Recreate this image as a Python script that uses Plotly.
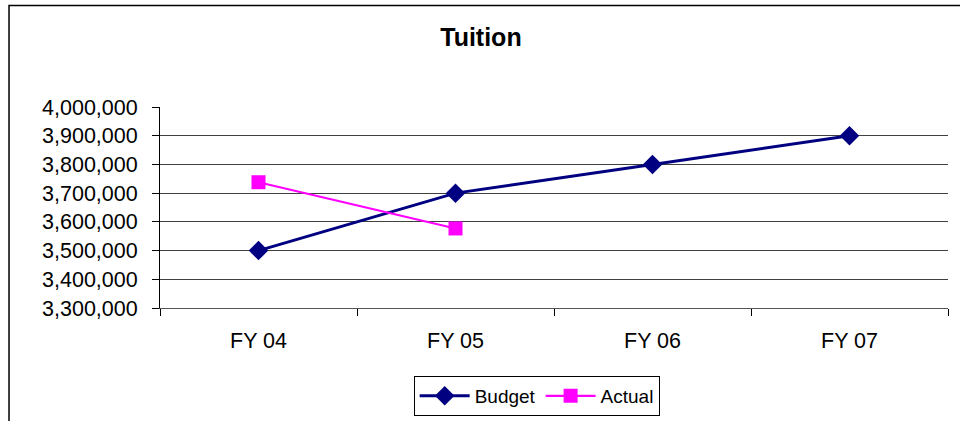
import plotly.graph_objects as go

# Datos
years = ["FY 04", "FY 05", "FY 06", "FY 07"]
budget = [3500000, 3700000, 3800000, 3900000]
actual_years = ["FY 04", "FY 05"]
actual = [3738000, 3577000]
y_ticks = [3300000, 3400000, 3500000, 3600000, 3700000, 3800000, 3900000, 4000000]
grid_ticks = y_ticks[1:-1]

FONT = "Liberation Sans, Arial, sans-serif"

fig = go.Figure()
fig.add_trace(go.Scatter(
    x=years, y=budget, name="Budget", mode="lines+markers",
    line=dict(color="#000080", width=3),
    marker=dict(symbol="diamond", size=15, color="#000080"),
))
fig.add_trace(go.Scatter(
    x=actual_years, y=actual, name="Actual", mode="lines+markers",
    line=dict(color="#FF00FF", width=2.2),
    marker=dict(symbol="square", size=14, color="#FF00FF"),
))
# eje fantasma solo para la cuadricula (Excel no la dibuja arriba)
fig.add_trace(go.Scatter(x=years, y=budget, yaxis="y2", mode="none",
                         showlegend=False, hoverinfo="skip"))

fig.update_layout(
    template="none",
    width=960, height=421,
    margin=dict(l=160, r=12, t=107, b=113, autoexpand=False),
    paper_bgcolor="white", plot_bgcolor="white",
    font=dict(family=FONT, size=21.5, color="black"),
    title=dict(text="<b>Tuition</b>", x=0.501, xanchor="center",
               y=0.912, yanchor="middle", font=dict(size=25)),
    xaxis=dict(
        type="category", range=[-0.5, 3.5], tickson="boundaries",
        ticks="outside", ticklen=7, tickcolor="black",
        showline=True, linecolor="#555555", linewidth=1,
        showgrid=False, ticklabelstandoff=13, automargin=False,
    ),
    yaxis=dict(
        range=[3300000, 4000000], tickvals=y_ticks, tickformat=",d",
        ticks="outside", ticklen=7, tickcolor="black",
        showline=True, linecolor="black", linewidth=1,
        showgrid=False, zeroline=False, ticklabelstandoff=10,
        automargin=False,
    ),
    yaxis2=dict(
        overlaying="y", range=[3300000, 4000000], tickvals=grid_ticks,
        showticklabels=False, ticks="", showgrid=True,
        gridcolor="#404040", gridwidth=1, zeroline=False, showline=False,
        automargin=False,
    ),
    legend=dict(
        orientation="h", x=0.478, xanchor="center", y=-0.338, yanchor="top",
        bordercolor="black", borderwidth=1, font=dict(size=19),
        itemwidth=50, tracegroupgap=0,
    ),
    showlegend=True,
)

# marco del grafico (sale por la derecha y abajo como en la captura)
fig.add_shape(type="rect", xref="paper", yref="paper",
              x0=-0.1916, x1=1.05, y0=-0.7, y1=1.505,
              line=dict(color="black", width=1.5), layer="below")

# sin el margen del body para que el grafico empiece en (0, 0)
fig.write_html("out.html", config={"displayModeBar": False},
               post_script="document.body.style.margin = '0';")
